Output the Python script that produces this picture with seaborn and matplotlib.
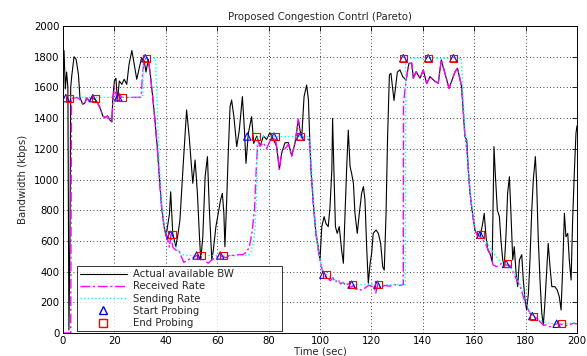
import matplotlib
matplotlib.use("Agg")
import matplotlib.pyplot as plt
from matplotlib.lines import Line2D
import seaborn as sns
import pandas as pd

# ---------------- data ----------------
bw_t = [0, 0.4, 0.9, 1.4, 1.9, 2.3, 2.7, 3.0, 3.4, 4.3, 5.1, 6.0, 6.6, 7.7, 8.6, 9.2, 10.3, 11.2, 12.5, 13.4,
        14.4, 15.5, 16.4, 17.3, 18.3, 19.0, 19.4, 20.0, 20.6, 21.2, 21.9, 22.9, 23.8, 24.8, 25.7, 26.8, 27.7,
        28.7, 29.7, 30.6, 31.6, 32.3, 33.2, 33.9, 34.8, 35.8, 36.8, 37.5, 38.4, 39.4, 40.1, 40.6, 41.4, 41.9,
        42.7, 43.9, 44.7, 45.5, 46.8, 48.1, 49.1, 50.5, 51.4, 52.3, 53.1, 53.6, 54.4, 55.3, 56.2, 56.9, 57.9,
        58.5, 59.5, 60.4, 61.3, 62.0, 62.6, 63.0, 63.7, 64.3, 65.0, 65.6, 66.5, 67.6, 68.6, 69.8, 70.6, 71.2,
        72.1, 73.4, 74.2, 75.4, 76.7, 78.0, 79.2, 80.5, 81.8, 83.1, 84.2, 85.1, 86.4, 87.7, 89.0, 90.3, 91.6,
        92.2, 92.9, 93.8, 94.8, 95.5, 96.1, 96.5, 97.4, 98.4, 99.3, 100.0, 100.7, 101.6, 102.3, 103.2, 103.9,
        104.6, 104.9, 105.4, 106.0, 106.7, 107.5, 108.4, 109.1, 109.7, 110.4, 111.0, 111.7, 112.3, 113.0,
        113.6, 114.5, 115.3, 116.2, 116.9, 117.5, 118.2, 118.8, 119.5, 120.1, 120.7, 121.8, 122.7, 123.6,
        124.4, 125.0, 125.7, 126.3, 127.0, 127.6, 128.8, 130.1, 131.1, 132.2, 133.5, 134.6, 135.7, 136.3,
        137.4, 138.9, 140.2, 141.5, 142.8, 144.7, 146.0, 147.2, 148.5, 150.2, 152.5, 153.5, 155.1, 155.8,
        156.4, 157.1, 157.7, 158.4, 159.0, 159.7, 160.3, 161.2, 162.3, 163.3, 163.9, 164.6, 165.3, 166.1,
        167.0, 167.7, 168.2, 169.0, 169.8, 170.4, 171.1, 171.7, 172.4, 173.0, 173.7, 174.3, 175.0, 175.6,
        176.3, 176.9, 177.6, 178.5, 179.1, 179.8, 180.4, 181.1, 181.7, 182.4, 183.0, 183.8, 184.3, 184.9,
        185.6, 186.3, 186.9, 187.5, 188.2, 188.8, 189.5, 190.2, 191.4, 192.3, 193.1, 193.8, 194.4, 195.1,
        195.7, 196.4, 197.0, 197.7, 198.3, 199.0, 199.6, 200.0]
bw_v = [1780, 1840, 1590, 1700, 1600, 20, 600, 1600, 1674, 1800, 1783, 1685, 1533, 1490, 1500, 1533, 1511, 1533,
        1522, 1500, 1468, 1414, 1403, 1414, 1386, 1375, 1533, 1642, 1660, 1511, 1642, 1620, 1653, 1620, 1750,
        1840, 1750, 1653, 1729, 1794, 1772, 1700, 1783, 1696, 1555, 1381, 1186, 1012, 817, 686, 632, 686, 773,
        920, 649, 563, 640, 736, 1105, 1453, 1279, 975, 1127, 910, 627, 476, 627, 1018, 1149, 823, 476, 541,
        693, 780, 866, 910, 780, 562, 866, 1171, 1474, 1518, 1409, 1214, 1322, 1540, 1322, 1105, 1300, 1409,
        1235, 1283, 1218, 1283, 1261, 1305, 1261, 1218, 1066, 1175, 1240, 1240, 1153, 1240, 1392, 1322, 1279,
        1540, 1615, 1518, 1214, 1062, 845, 649, 562, 476, 693, 758, 714, 693, 823, 1062, 1398, 1062, 693, 649,
        693, 541, 454, 758, 1084, 1322, 1084, 1040, 975, 780, 649, 780, 910, 954, 866, 541, 324, 454, 519, 649,
        671, 649, 584, 432, 410, 780, 1279, 1681, 1692, 1515, 1700, 1714, 1670, 1648, 1756, 1758, 1660, 1702,
        1660, 1713, 1625, 1670, 1640, 1627, 1779, 1700, 1594, 1700, 1725, 1605, 1431, 1279, 1257, 1062, 910,
        823, 736, 671, 638, 627, 714, 780, 627, 541, 519, 465, 1214, 1040, 801, 758, 606, 476, 432, 649, 910,
        1018, 780, 476, 562, 389, 302, 476, 510, 345, 215, 150, 258, 476, 801, 997, 1149, 975, 627, 345, 128,
        52, 193, 410, 584, 432, 302, 302, 280, 237, 150, 410, 780, 627, 649, 476, 345, 736, 1062, 1301, 1350]

rx_t = [0, 3.0, 3.3, 4.3, 5.5, 6.6, 7.7, 8.6, 9.2, 10.3, 11.2, 12.5, 13.4, 14.4, 15.5, 16.4, 17.3, 18.3, 19.0,
        19.4, 20.0, 20.6, 21.2, 21.9, 22.9, 30.0, 30.5, 31.0, 31.6, 32.3, 33.2, 33.9, 34.8, 35.8, 36.8, 37.5,
        38.4, 39.4, 40.1, 40.6, 41.4, 42.0, 42.7, 43.9, 45.0, 46.0, 47.0, 48.0, 49.0, 50.5, 52.0, 53.6, 54.4,
        55.3, 56.5, 57.9, 59.0, 60.5, 62.0, 63.5, 65.0, 66.5, 68.0, 70.0, 71.5, 72.5, 73.5, 74.5, 75.3, 75.8,
        76.7, 78.0, 79.2, 80.5, 81.8, 82.5, 83.1, 84.2, 85.1, 86.4, 87.7, 89.0, 90.3, 91.6, 92.2, 92.9, 94.0,
        95.5, 96.1, 96.5, 97.4, 98.4, 99.3, 100.0, 101.0, 102.0, 103.0, 104.0, 105.0, 106.0, 107.0, 108.0,
        109.0, 110.0, 111.0, 112.0, 113.0, 114.0, 115.0, 116.0, 117.0, 118.0, 119.0, 120.0, 121.0, 121.7,
        122.5, 123.5, 125.0, 127.0, 129.0, 131.0, 132.4, 132.5, 133.5, 134.6, 135.7, 136.3, 137.4, 138.9,
        140.2, 141.5, 142.8, 144.7, 146.0, 147.2, 148.5, 150.2, 152.5, 153.5, 155.1, 155.8, 156.4, 157.1,
        157.7, 158.4, 159.0, 159.7, 160.3, 161.2, 162.3, 164.3, 166.1, 167.4, 168.7, 170.7, 172.4, 174.0,
        175.3, 176.6, 177.9, 179.1, 180.2, 181.7, 183.0, 184.3, 185.6, 186.9, 188.2, 189.5, 190.8, 192.7,
        194.6, 196.5, 198.4, 200.0]
rx_v = [0, 0, 1530, 1530, 1535, 1520, 1490, 1500, 1530, 1510, 1530, 1522, 1500, 1468, 1414, 1403, 1414, 1386,
        1375, 1500, 1600, 1560, 1500, 1560, 1535, 1535, 1560, 1700, 1772, 1790, 1770, 1696, 1555, 1381, 1186,
        1012, 817, 686, 632, 620, 560, 640, 560, 540, 540, 500, 460, 470, 480, 490, 505, 476, 480, 470, 455,
        476, 490, 500, 500, 490, 510, 505, 510, 510, 530, 560, 650, 800, 1100, 1250, 1218, 1240, 1200, 1250,
        1261, 1275, 1218, 1066, 1175, 1200, 1230, 1153, 1240, 1392, 1300, 1270, 1280, 1260, 1214, 1062, 845,
        649, 540, 476, 400, 370, 360, 340, 360, 330, 350, 320, 330, 310, 320, 300, 310, 285, 290, 280, 285,
        300, 310, 305, 300, 260, 320, 290, 310, 305, 315, 310, 315, 1500, 1648, 1756, 1758, 1660, 1702, 1660,
        1713, 1625, 1670, 1640, 1627, 1779, 1700, 1594, 1700, 1725, 1605, 1431, 1279, 1200, 1062, 910, 823,
        736, 671, 638, 627, 584, 519, 443, 432, 454, 443, 440, 389, 345, 302, 237, 182, 128, 117, 95, 74, 52,
        52, 41, 52, 63, 52, 48, 63, 60]

tx_t = [0, 31.0, 31.3, 36.0, 36.8, 37.5, 38.4, 39.4, 40.2, 41.0, 42.0, 43.0, 44.0, 45.0, 46.0, 47.5, 72.0,
        73.0, 74.0, 74.8, 75.3, 75.6, 96.0, 96.6, 97.4, 98.4, 99.3, 100.2, 101.2, 102.5, 105.0, 108.0, 111.0,
        112.5, 133.2, 133.4, 155.0, 155.8, 156.5, 157.5, 158.4, 159.3, 160.2, 161.2, 162.3, 164.0, 166.0,
        168.0, 170.0, 172.4, 174.0, 176.0, 178.0, 180.0, 181.5, 182.7, 184.5, 186.5, 188.5, 190.0, 192.0,
        196.0, 200.0]
tx_v = [1535, 1535, 1790, 1790, 1400, 1100, 850, 700, 650, 645, 640, 600, 560, 530, 515, 505, 505, 520, 580,
        700, 900, 1280, 1280, 1100, 880, 680, 560, 460, 390, 380, 350, 330, 320, 315, 315, 1790, 1790, 1500,
        1320, 1100, 930, 800, 700, 650, 640, 610, 560, 510, 470, 450, 430, 380, 310, 220, 140, 110, 95, 75,
        65, 62, 60, 62, 68]

start_t = [1.1, 11.6, 21.5, 32.0, 41.8, 52.0, 61.2, 71.7, 82.1, 92.2, 101.3, 112.3, 122.3, 132.4, 142.1, 151.9,
           162.3, 172.4, 182.6, 192.1]
start_v = [1530, 1530, 1535, 1790, 640, 505, 505, 1280, 1280, 1280, 380, 315, 315, 1790, 1790, 1790, 640,
           450, 110, 60]
end_t = [2.5, 12.5, 23.1, 32.4, 42.4, 53.7, 62.4, 75.1, 82.5, 92.4, 102.6, 112.5, 122.6, 132.6, 142.3, 152.1,
         162.6, 172.8, 183.1, 194.0]
end_v = start_v

title = "Proposed Congestion Contrl (Pareto)"
xlabel = "Time (sec)"
ylabel = "Bandwidth (kbps)"
labels = ["Actual available BW", "Received Rate", "Sending Rate", "Start Probing", "End Probing"]

# ---------------- plotting ----------------
sns.set_style("white")
plt.rcParams['font.family'] = ['DejaVu Sans']
plt.rcParams['font.size'] = 7.3

fig = plt.figure(figsize=(5.87, 3.56), dpi=100)
ax = fig.add_axes([63 / 587, 23 / 356, 514 / 587, 307 / 356])

bw = pd.DataFrame({"t": bw_t, "v": bw_v})
rx = pd.DataFrame({"t": rx_t, "v": rx_v})
tx = pd.DataFrame({"t": tx_t, "v": tx_v})
st = pd.DataFrame({"t": start_t, "v": start_v})
en = pd.DataFrame({"t": end_t, "v": end_v})

sns.lineplot(data=bw, x="t", y="v", ax=ax, color="black", lw=0.8, sort=False, estimator=None)
sns.lineplot(data=rx, x="t", y="v", ax=ax, color="#ff00ff", lw=1.0, sort=False, estimator=None,
             dashes=False)
ax.lines[-1].set_dashes([7, 2, 1.5, 2])
sns.lineplot(data=tx, x="t", y="v", ax=ax, color="#00ffff", lw=1.0, sort=False, estimator=None)
ax.lines[-1].set_linestyle(":")
sns.scatterplot(data=st, x="t", y="v", ax=ax, marker="^", s=28, facecolors="none",
                edgecolor="#0000ff", linewidth=0.8, zorder=5)
sns.scatterplot(data=en, x="t", y="v", ax=ax, marker="s", s=26, facecolors="none",
                edgecolor="#ff0000", linewidth=0.8, zorder=6)

ax.set_xlim(0, 200)
ax.set_ylim(0, 2000)
ax.set_xticks(range(0, 201, 20))
ax.set_yticks(range(0, 2001, 200))
ax.grid(True, color="black", linestyle=(0, (1, 3)), linewidth=0.6)
ax.tick_params(direction="in", length=3.5, width=0.6, top=True, right=True, labelsize=7.3, pad=2.5,
               colors="black")
for sp in ax.spines.values():
    sp.set_color("black")
    sp.set_linewidth(0.7)
ax.set_title(title, fontsize=7.3, pad=4)
ax.set_xlabel(xlabel, fontsize=7.3, labelpad=0)
ax.set_ylabel(ylabel, fontsize=7.3, labelpad=4)

handles = [
    Line2D([], [], color="black", lw=0.8),
    Line2D([], [], color="#ff00ff", lw=1.0, dashes=[7, 2, 1.5, 2]),
    Line2D([], [], color="#00ffff", lw=1.0, linestyle=":"),
    Line2D([], [], color="#0000ff", marker="^", linestyle="none", markerfacecolor="none", markersize=5.5),
    Line2D([], [], color="#ff0000", marker="s", linestyle="none", markerfacecolor="none", markersize=5.5),
]
leg = ax.legend(handles, labels, loc="lower left", bbox_to_anchor=(0.027, 0.006, 0.40, 0.215),
                mode="expand", fontsize=7.3, handlelength=4.6, frameon=True, fancybox=False,
                borderpad=0.3, labelspacing=0.22, handletextpad=0.6, borderaxespad=0)
leg.get_frame().set_edgecolor("black")
leg.get_frame().set_linewidth(0.7)

fig.savefig("out.png", dpi=100)
